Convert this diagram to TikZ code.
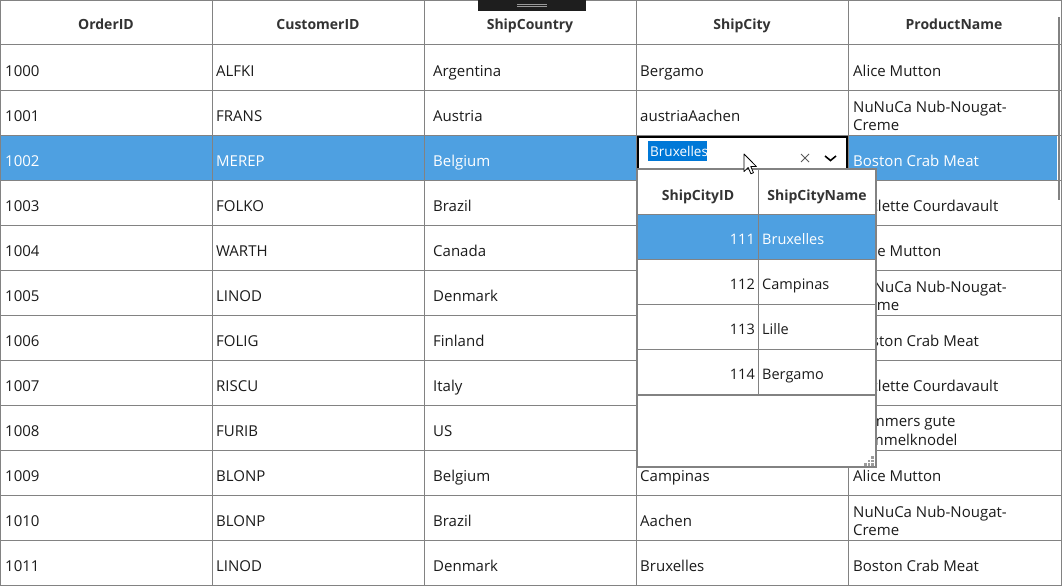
\documentclass[tikz,border=0pt]{standalone}
\usepackage{fontspec}
\setmainfont{Open Sans}
\usetikzlibrary{positioning}
\definecolor{gridgray}{RGB}{130,130,130}
\definecolor{selblue}{RGB}{78,160,225}
\definecolor{hiblue}{RGB}{0,120,215}
\definecolor{headtext}{RGB}{51,51,51}
\definecolor{celltext}{RGB}{27,27,27}
\definecolor{gripbar}{RGB}{30,30,30}
\tikzset{
    gridline/.style = {draw=gridgray, line width=1pt},
    cell/.style = {anchor=base west, inner sep=0pt, text=celltext, font=\fontsize{15}{18.5}\selectfont},
    cellsel/.style = {cell, text=white},
    celltwo/.style = {cell, anchor=north west, align=left},
    head/.style = {anchor=base, inner sep=0pt, text=headtext, font=\fontsize{14}{17}\selectfont\bfseries},
    popcell/.style = {cell, font=\fontsize{14.5}{17}\selectfont},
    popid/.style = {popcell, anchor=base east},
    popbox/.style = {draw=gridgray, line width=1.5pt, fill=white},
    editbox/.style = {draw=black, line width=2pt, fill=white},
    grip/.style = {fill=gridgray!80, minimum size=2.6pt, inner sep=0pt},
}

\begin{document}
\begin{tikzpicture}[x=1pt,y=-1pt]
\useasboundingbox[fill=white] (0,0) rectangle (1062,586);
% selected row
\fill[selblue] (0,135) rectangle (1057,180);
% grid
\foreach \y in {45,90,...,540} \draw[gridline] (0,\y) -- (1061,\y);
\foreach \x in {212,424,636,848} \draw[gridline] (\x,0) -- (\x,585);
\draw[gridline] (0.5,0.5) rectangle (1061,585);
% header
\node[head] (hOrder) at (106,30) {OrderID};
\node[head] (hCust) at (318,30) {CustomerID};
\node[head] (hCountry) at (530,30) {ShipCountry};
\node[head] (hCity) at (742,30) {ShipCity};
\node[head] (hProd) at (954,30) {ProductName};
%
\foreach \i/\oid/\cid/\cnt in {0/1000/ALFKI/Argentina, 1/1001/FRANS/Austria,
    3/1003/FOLKO/Brazil, 4/1004/WARTH/Canada, 5/1005/LINOD/Denmark,
    6/1006/FOLIG/Finland, 7/1007/RISCU/Italy, 8/1008/FURIB/US,
    9/1009/BLONP/Belgium, 10/1010/BLONP/Brazil, 11/1011/LINOD/Denmark}{
  \node[cell] (order\oid) at (5,76+45*\i) {\oid};
  \node[cell] (cust\oid) at (216,76+45*\i) {\cid};
  \node[cell] (country\oid) at (433,76+45*\i) {\cnt};
}
\foreach \i/\oid/\cty in {0/1000/Bergamo, 1/1001/austriaAachen, 9/1009/Campinas,
    10/1010/Aachen, 11/1011/Bruxelles}
  \node[cell] (city\oid) at (640,76+45*\i) {\cty};
\foreach \i/\oid/\prd in {0/1000/Alice Mutton, 3/1003/Raclette Courdavault,
    4/1004/Alice Mutton, 6/1006/Boston Crab Meat, 7/1007/Raclette Courdavault,
    9/1009/Alice Mutton, 11/1011/Boston Crab Meat}
  \node[cell] (prod\oid) at (853,76+45*\i) {\prd};
\foreach \i/\oid/\prd in {1/1001/{NuNuCa Nub-Nougat-\\Creme}, 5/1005/{NuNuCa Nub-Nougat-\\Creme},
    8/1008/{Wimmers gute\\Semmelknodel}, 10/1010/{NuNuCa Nub-Nougat-\\Creme}}
  \node[celltwo] (prod\oid) at (853,55.5+45*\i) {\prd};
% selected row 1002
\node[cellsel] (order1002) at (5,166) {1002};
\node[cellsel] (cust1002) at (216,166) {MEREP};
\node[cellsel] (country1002) at (433,166) {Belgium};
\node[cellsel] (prod1002) at (853,166) {Boston Crab Meat};
% editor
\draw[editbox] (638,137) rectangle (847,181);
\fill[hiblue] (648,141) rectangle (707,161);
\node[cellsel, font=\fontsize{13.5}{16}\selectfont] (edit) at (650,156) {Bruxelles};
\draw[black!65, line width=0.9pt] (801,154) -- (809,162) (801,162) -- (809,154);
\draw[black, line width=1.6pt] (825,156) -- (830.5,160.5) -- (836,156);
% drop down
\draw[popbox] (637,169) rectangle (876,467);
\fill[selblue] (638,214.5) rectangle (875,259);
\foreach \y in {214,259,304,349} \draw[gridline] (637,\y) -- (876,\y);
\draw[gridline, line width=2pt] (637,395) -- (876,395);
\draw[gridline] (758,169) -- (758,395);
\node[head] (hCityID) at (698,200) {ShipCityID};
\node[head] (hCityName) at (817,200) {ShipCityName};
\node[popid, text=white] (id111) at (755,244) {111};
\node[popcell, text=white] (name111) at (762,244) {Bruxelles};
\node[popid] (id112) at (755,289) {112};
\node[popcell] (name112) at (762,289) {Campinas};
\node[popid] (id113) at (755,334) {113};
\node[popcell] (name113) at (762,334) {Lille};
\node[popid] (id114) at (755,379) {114};
\node[popcell] (name114) at (762,379) {Bergamo};
\foreach \gx/\gy in {872.5/457.5, 869/461, 872.5/461, 865.5/464.5, 869/464.5, 872.5/464.5}
  \node[grip] at (\gx,\gy) {};
% scroll thumb and column grip
\fill[gridgray] (1057.5,17) rectangle (1059.5,200);
\fill[gripbar] (478,0) rectangle (586,11);
\draw[black!40, line width=0.8pt] (517,4) -- (547,4) (517,6.8) -- (547,6.8);
% mouse pointer
\draw[black, fill=white, line width=0.8pt, line join=round, shift={(744,154)}, scale=1.1]
  (0,0) -- (0,16) -- (3.8,12.3) -- (6.3,18) -- (8.6,17) -- (6.2,11.4) -- (11.3,11.4) -- cycle;
\end{tikzpicture}
\end{document}
